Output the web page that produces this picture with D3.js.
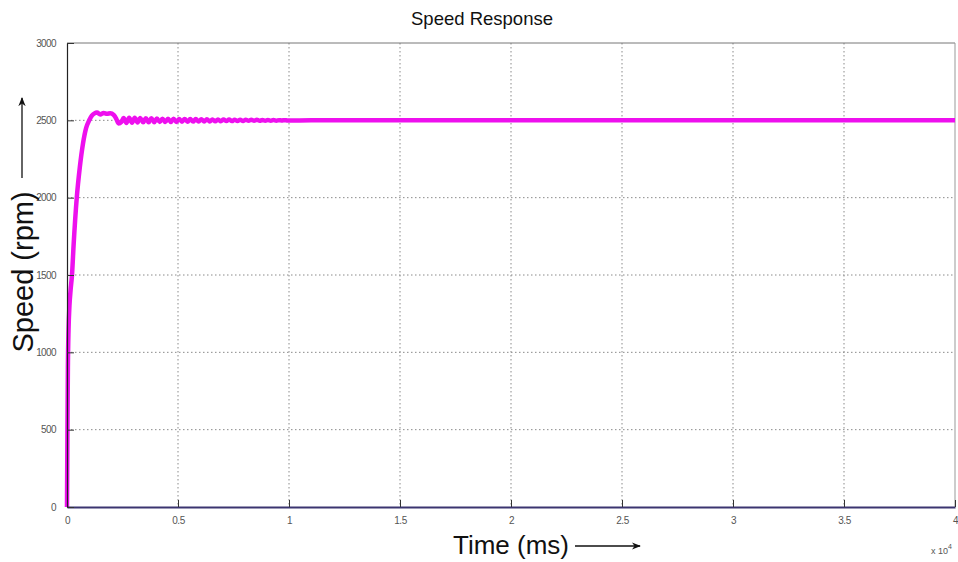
<!DOCTYPE html>
<html>
<head>
<meta charset="utf-8">
<script src="https://cdn.jsdelivr.net/npm/d3@7"></script>
<style>
  html, body { margin: 0; padding: 0; background: #fff; }
  svg { display: block; }
</style>
</head>
<body>
<svg id="chart" width="958" height="562"></svg>
<script>
// Motor speed response: time in units of 10^4 ms, speed in rpm
const timeValues = [
  0, 0.002, 0.004, 0.007, 0.011, 0.016, 0.0225, 0.03, 0.044, 0.058, 0.072, 0.086, 0.1, 0.112, 0.124,
  0.135, 0.15, 0.165, 0.18, 0.195, 0.21, 0.222, 0.232, 0.245,
  0.255, 0.268, 0.28, 0.293, 0.305, 0.318, 0.33, 0.343, 0.355, 0.368, 0.38, 0.393, 0.405, 0.418,
  0.43, 0.443, 0.455, 0.468, 0.48, 0.493, 0.505, 0.518, 0.53, 0.543, 0.555, 0.568, 0.58, 0.593,
  0.605, 0.618, 0.63, 0.643, 0.655, 0.668, 0.68, 0.693, 0.705, 0.718, 0.73, 0.743, 0.755, 0.768,
  0.78, 0.793, 0.805, 0.818, 0.83, 0.843, 0.855, 0.868, 0.88, 0.893, 0.905, 0.918, 0.93, 0.943,
  0.955, 0.968, 0.98, 0.993, 1.1, 2.0, 3.0, 4.0
];
const speedValues = [
  0, 500, 900, 1150, 1300, 1400, 1500, 1700, 2000, 2200, 2350, 2450, 2500, 2530, 2545,
  2550, 2538, 2548, 2542, 2546, 2535, 2510, 2480, 2490,
  2515, 2483, 2517, 2485, 2516, 2486, 2515, 2487, 2514, 2487, 2513, 2488, 2512, 2489,
  2511, 2489, 2511, 2490, 2510, 2490, 2509, 2491, 2509, 2491, 2508, 2492, 2508, 2492,
  2507, 2493, 2507, 2493, 2506, 2494, 2506, 2494, 2505, 2495, 2505, 2495, 2504, 2496,
  2504, 2496, 2503, 2497, 2503, 2497, 2503, 2497, 2502, 2498, 2502, 2498, 2502, 2498,
  2501, 2499, 2501, 2499, 2500, 2500, 2500, 2500
];
const xTicks = [0, 0.5, 1, 1.5, 2, 2.5, 3, 3.5, 4];
const xTickLabels = ["0", "0.5", "1", "1.5", "2", "2.5", "3", "3.5", "4"];
const yTicks = [0, 500, 1000, 1500, 2000, 2500, 3000];
const yTickLabels = ["0", "500", "1000", "1500", "2000", "2500", "3000"];

const svg = d3.select("#chart");
const margin = { left: 67, right: 3, top: 43, bottom: 55 };
const W = 958, H = 562;
const x = d3.scaleLinear().domain([0, 4]).range([margin.left, W - margin.right]);
const y = d3.scaleLinear().domain([0, 3000]).range([H - margin.bottom, margin.top]);

const defs = svg.append("defs");
defs.append("marker").attr("id", "arrow").attr("viewBox", "0 0 10 10")
  .attr("refX", 9).attr("refY", 5).attr("markerWidth", 7).attr("markerHeight", 7)
  .attr("orient", "auto-start-reverse")
  .append("path").attr("d", "M0,1 L10,5 L0,9 L3,5 Z").attr("fill", "#111");

// dotted grid
const grid = svg.append("g");
grid.selectAll("line.vx").data(xTicks.slice(1, -1)).join("line")
  .attr("x1", d => x(d)).attr("x2", d => x(d))
  .attr("y1", y(3000)).attr("y2", y(0))
  .attr("stroke", "#8a8a8a").attr("stroke-width", 1).attr("stroke-dasharray", "1.5,2.5");
grid.selectAll("line.hy").data(yTicks.slice(1, -1)).join("line")
  .attr("x1", x(0)).attr("x2", x(4))
  .attr("y1", d => y(d)).attr("y2", d => y(d))
  .attr("stroke", "#8a8a8a").attr("stroke-width", 1).attr("stroke-dasharray", "1.5,2.5");

// frame top / right
svg.append("line").attr("x1", x(0)).attr("x2", x(4)).attr("y1", y(3000)).attr("y2", y(3000))
  .attr("stroke", "#777").attr("stroke-width", 1);
svg.append("line").attr("x1", x(4)).attr("x2", x(4)).attr("y1", y(3000)).attr("y2", y(0))
  .attr("stroke", "#999").attr("stroke-width", 1);

// speed curve
const pts = timeValues.map((t, i) => [t, speedValues[i]]);
svg.append("path").datum(pts)
  .attr("fill", "none").attr("stroke", "#ee10ee").attr("stroke-width", 4.5)
  .attr("stroke-linejoin", "round")
  .attr("d", d3.line().x(d => x(d[0])).y(d => y(d[1])).curve(d3.curveMonotoneX));

// axes (inward ticks)
const xAxis = d3.axisBottom(x).tickValues(xTicks).tickFormat((d, i) => xTickLabels[i])
  .tickSizeInner(-7).tickSizeOuter(0).tickPadding(10);
const gx = svg.append("g").attr("transform", `translate(0,${y(0)})`).call(xAxis);
gx.select(".domain").attr("stroke", "#3b3570").attr("stroke-width", 2.2);
gx.selectAll(".tick line").attr("stroke", "#333");
gx.selectAll(".tick text").attr("fill", "#555").attr("font-family", "Arial, Liberation Sans, sans-serif")
  .attr("font-size", 10).attr("letter-spacing", -0.4);

const yAxis = d3.axisLeft(y).tickValues(yTicks).tickFormat((d, i) => yTickLabels[i])
  .tickSizeInner(-7).tickSizeOuter(0).tickPadding(11);
const gy = svg.append("g").attr("transform", `translate(${x(0)},0)`).call(yAxis);
gy.select(".domain").attr("stroke", "#222").attr("stroke-width", 1.2);
gy.selectAll(".tick line").attr("stroke", "#333");
gy.selectAll(".tick text").attr("fill", "#555").attr("font-family", "Arial, Liberation Sans, sans-serif")
  .attr("font-size", 10).attr("letter-spacing", -0.6);

// exponent label
const ex = svg.append("text").attr("x", 931).attr("y", 554)
  .attr("font-family", "Arial, Liberation Sans, sans-serif").attr("font-size", 9).attr("fill", "#555");
ex.append("tspan").text("x 10");
ex.append("tspan").attr("dy", -5).attr("font-size", 7).text("4");

// title
svg.append("text").attr("x", 482).attr("y", 25).attr("text-anchor", "middle")
  .attr("font-family", "Arial, Liberation Sans, sans-serif").attr("font-size", 18.5).attr("fill", "#111")
  .text("Speed Response");

// x label with arrow
svg.append("text").attr("x", 511).attr("y", 554).attr("text-anchor", "middle")
  .attr("font-family", "Arial, Liberation Sans, sans-serif").attr("font-size", 26).attr("fill", "#111")
  .text("Time (ms)");
svg.append("line").attr("x1", 575).attr("x2", 640).attr("y1", 546).attr("y2", 546)
  .attr("stroke", "#111").attr("stroke-width", 1.3).attr("marker-end", "url(#arrow)");

// y label with arrow
svg.append("text").attr("transform", "translate(33,272) rotate(-90)").attr("text-anchor", "middle")
  .attr("font-family", "Arial, Liberation Sans, sans-serif").attr("font-size", 29).attr("fill", "#111")
  .text("Speed (rpm)");
svg.append("line").attr("x1", 22).attr("x2", 22).attr("y1", 178).attr("y2", 98)
  .attr("stroke", "#111").attr("stroke-width", 1.3).attr("marker-end", "url(#arrow)");
</script>
</body>
</html>
